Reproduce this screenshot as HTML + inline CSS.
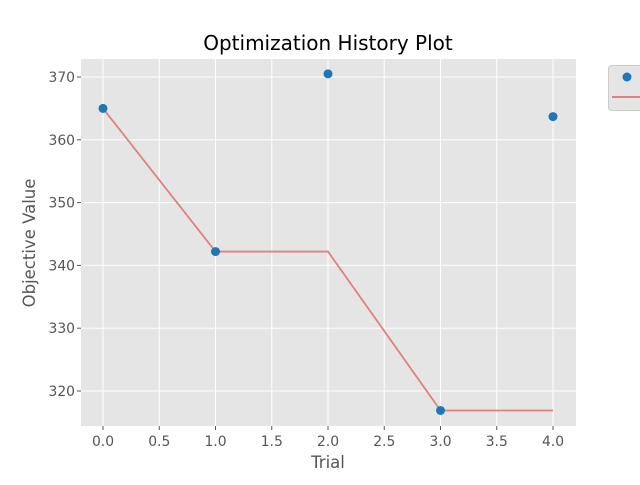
<!DOCTYPE html>
<html><head><meta charset="utf-8"><style>
body{margin:0;background:#fff;}
svg text{font-family:"DejaVu Sans","Liberation Sans",sans-serif;}
</style></head><body>
<svg id="chart" width="640" height="480" xmlns="http://www.w3.org/2000/svg">
<rect x="81" y="59" width="495" height="367" fill="#e5e5e5"/>
<g id="grid"></g>
<g id="ticks"></g>
<g id="series"></g>
<text x="328" y="50" text-anchor="middle" font-size="20" fill="#000">Optimization History Plot</text>
<text x="328" y="468" text-anchor="middle" font-size="16.5" fill="#555">Trial</text>
<text x="35" y="243" text-anchor="middle" font-size="16.5" fill="#555" transform="rotate(-90 35 243)">Objective Value</text>
<g>
<rect x="608.5" y="65.5" width="50" height="45" rx="3" fill="#e5e5e5" stroke="#ccc"/>
<circle cx="627" cy="77" r="4.5" fill="#1f77b4"/>
<line x1="612" y1="97" x2="640" y2="97" stroke="#e08080" stroke-width="2"/>
</g>
</svg>
<script>
const trials=[0,1,2,3,4];
const objectiveValues=[365.0,342.2,370.5,316.9,363.7];
const bestValues=[365.0,342.2,342.2,316.9,316.9];
const xTicks=[0,0.5,1,1.5,2,2.5,3,3.5,4];
const yTicks=[320,330,340,350,360,370];
const NS="http://www.w3.org/2000/svg";
function X(v){return 103+v*112.5;}
function Y(v){return 391-(v-320)*6.28;}
function mk(t,a,p){const e=document.createElementNS(NS,t);for(const k in a)e.setAttribute(k,a[k]);p.appendChild(e);return e;}
const grid=document.getElementById('grid'),ticks=document.getElementById('ticks'),series=document.getElementById('series');
xTicks.forEach(v=>{
 const l=mk('line',{x1:X(v),x2:X(v),y1:59,y2:426,stroke:'#fff','stroke-width':1},grid);
 
 
 const tk=mk('line',{x1:X(v),x2:X(v),y1:426,y2:430,stroke:'#555'},ticks);
 
 
 const t=mk('text',{x:X(v),y:446,'text-anchor':'middle','font-size':13.9,fill:'#555'},ticks);
 t.textContent=v.toFixed(1);
 
 
});
yTicks.forEach(v=>{
 const l=mk('line',{x1:81,x2:576,y1:Y(v),y2:Y(v),stroke:'#fff','stroke-width':1},grid);
 
 
 const tk=mk('line',{x1:77,x2:81,y1:Y(v),y2:Y(v),stroke:'#555'},ticks);
 
 
 const t=mk('text',{x:75,y:Y(v)+5,'text-anchor':'end','font-size':13.9,fill:'#555'},ticks);
 t.textContent=v;
 
 
});
const pl=mk('polyline',{points:trials.map((t,i)=>X(t)+','+Y(bestValues[i])).join(' '),fill:'none',stroke:'#e08080','stroke-width':1.8},series);


trials.forEach((t,i)=>{
 const c=mk('circle',{cx:X(t),cy:Y(objectiveValues[i]),r:4.5,fill:'#1f77b4'},series);
 
 
});
</script>
</body></html>
